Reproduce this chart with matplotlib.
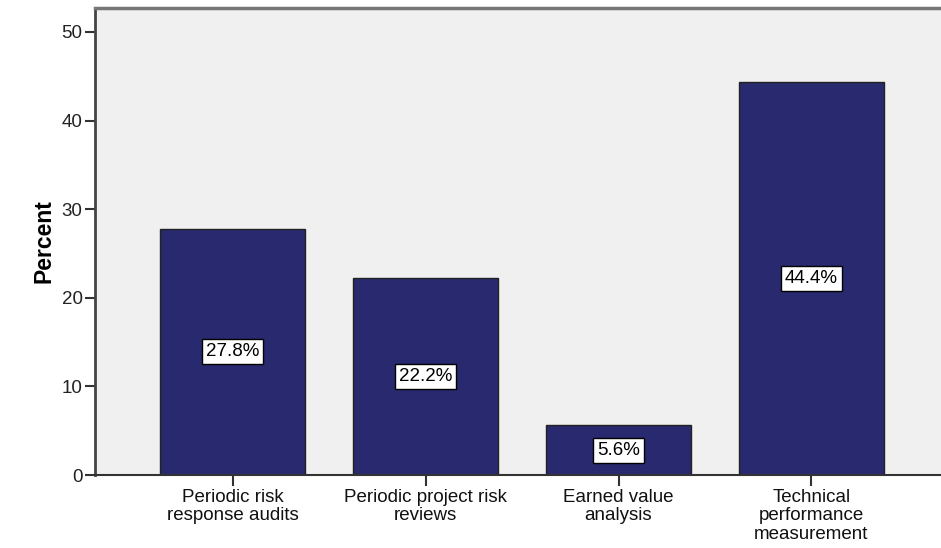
import matplotlib.pyplot as plt
import numpy as np

plt.rcParams['font.family'] = ['Liberation Sans', 'DejaVu Sans']

categories = ['Periodic risk\nresponse audits', 'Periodic project risk\nreviews',
              'Earned value\nanalysis', 'Technical\nperformance\nmeasurement']
percents = [27.8, 22.2, 5.6, 44.4]
y_ticks = [0, 10, 20, 30, 40, 50]

bar_color = '#29296f'
panel_color = '#f0f0f0'

fig = plt.figure(figsize=(9.41, 5.48), dpi=100)
ax = fig.add_axes([0.101, 0.1332, 0.909, 0.8522])
ax.set_facecolor(panel_color)

x = np.arange(len(categories))
bars = ax.bar(x, percents, width=0.755, color=bar_color, edgecolor='#222222', linewidth=1.0, zorder=2)

# value boxes in the middle of each bar
for xi, val in zip(x, percents):
    ax.text(xi, val / 2, f'{val:.1f}%', ha='center', va='center', fontsize=13.5, color='black',
            zorder=3, bbox=dict(boxstyle='square,pad=0.22', facecolor='white', edgecolor='black', linewidth=1.0))

ax.set_xlim(-0.713, 3.72)
ax.set_ylim(0, 52.7)
ax.set_yticks(y_ticks)
ax.set_yticklabels([str(t) for t in y_ticks], fontsize=13.5, color='#222222')
ax.set_xticks(x)
ax.set_xticklabels(categories, fontsize=13.5, color='#111111', linespacing=1.12)
ax.tick_params(axis='y', direction='out', length=7, width=1.5, color='#333333', pad=2)
ax.tick_params(axis='x', direction='out', length=8, width=1.5, color='#333333', pad=2)
ax.set_ylabel('Percent', fontsize=16.5, fontweight='bold', labelpad=4)

ax.spines['left'].set_color('#444444')
ax.spines['left'].set_linewidth(2.0)
ax.spines['bottom'].set_color('#333333')
ax.spines['bottom'].set_linewidth(1.5)
ax.spines['top'].set_color('#777777')
ax.spines['top'].set_linewidth(2.5)
ax.spines['right'].set_visible(False)

fig.savefig('out.png', dpi=100)
